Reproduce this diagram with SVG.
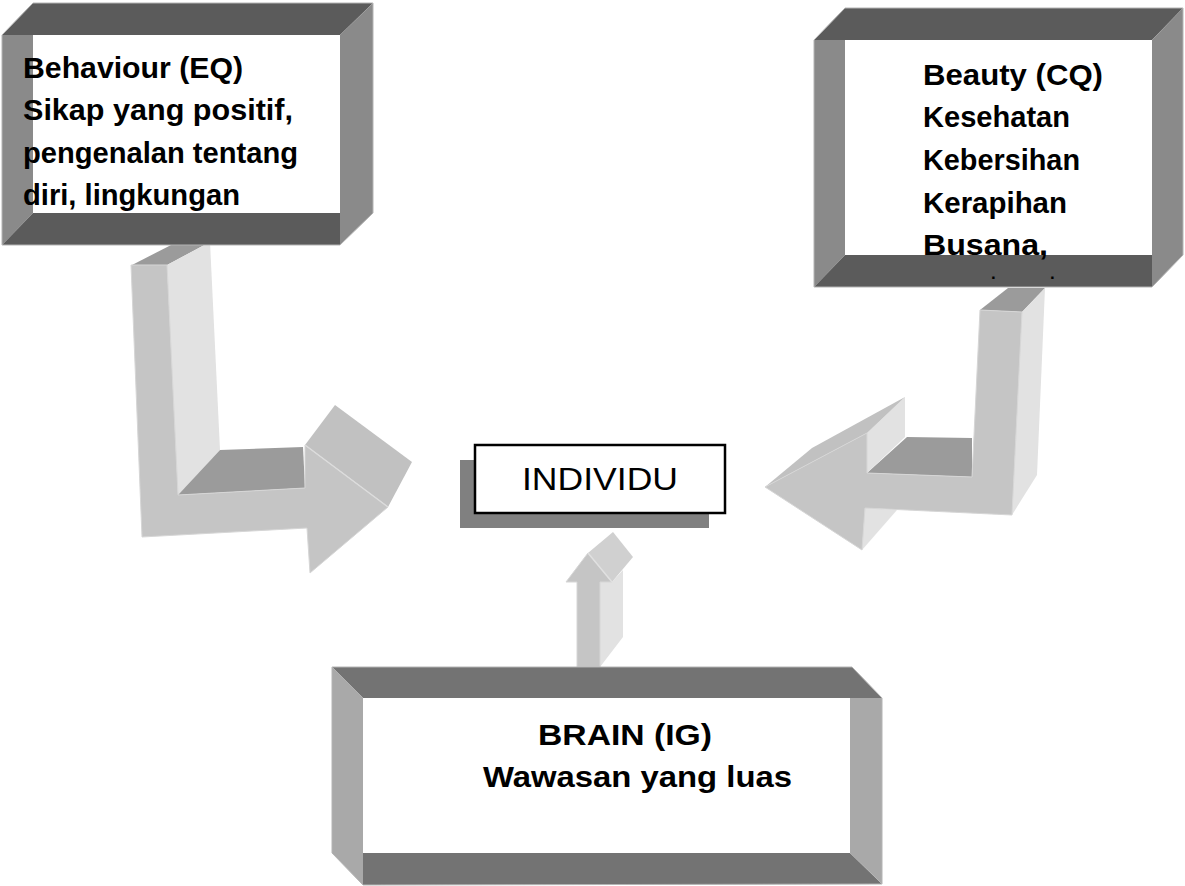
<svg xmlns="http://www.w3.org/2000/svg" width="1185" height="886" viewBox="0 0 1185 886">
<style>
.d1{fill:#5b5b5b}
.s1{fill:#8a8a8a}
.d2{fill:#737373}
.s2{fill:#a9a9a9}
.in{fill:#ffffff}
.edge{fill:none;stroke:#b4b4b4;stroke-width:1}
.front{fill:#c5c5c5;stroke:#d6d6d6;stroke-width:1}
.lite{fill:#e2e2e2}
.mid{fill:#9b9b9b}
.bev{fill:#c1c1c1}
.bev2{fill:#d0d0d0}
.t{font-family:'Comic Sans MS','Liberation Sans',Arial,sans-serif;font-weight:bold;font-size:30px;fill:#000}
.tn{font-family:'Comic Sans MS','Liberation Sans',Arial,sans-serif;font-weight:normal;font-size:31px;fill:#000}
.dot{font-family:'Liberation Sans',Arial,sans-serif;font-weight:bold;font-size:17px;fill:#000}
</style>
<g id="connectors">
  <g id="arrow-behaviour">
    <polygon class="mid" points="132,265 175,243 210,242 167,265"/>
    <polygon class="lite" points="167,265 210,242 220,450 178,495"/>
    <polygon class="mid" points="178,495 220,450 303,447 305,488"/>
    <polygon class="bev" points="305,445 335,405 412,462 388,507"/>
    <polygon class="front" points="131,265 167,265 178,495 305,488 305,445 388,507 310,573 307,528 142,537"/>
    <line x1="305" y1="445" x2="388" y2="507" stroke="#dcdcdc" stroke-width="1.5"/>
  </g>
  <g id="arrow-beauty">
    <polygon class="mid" points="980,310 1008,288 1045,288 1022,312"/>
    <polygon class="lite" points="1022,312 1045,288 1037,475 1012,515"/>
    <polygon class="mid" points="867,473 907,437 972,438 972,477"/>
    <polygon class="lite" points="867,433 905,397 905,437 867,473"/>
    <polygon class="bev" points="765,487 812,448 905,397 867,433"/>
    <polygon class="lite" points="865,508 897,510 862,550"/>
    <polygon class="front" points="765,487 867,433 867,473 972,477 980,310 1022,312 1012,515 865,508 862,550"/>
  </g>
  <g id="arrow-brain">
    <polygon class="lite" points="600,582 612,582 623,570 623,637 600,667"/>
    <polygon class="bev2" points="588,553 613,532 633,557 612,582"/>
    <polygon class="front" points="577,667 577,582 566,582 588,553 612,582 600,582 600,667"/>
    <line x1="588" y1="553" x2="612" y2="582" stroke="#e0e0e0" stroke-width="1.5"/>
  </g>
</g>
<g id="node-behaviour">
  <rect class="in" x="33" y="35" width="307" height="178"/>
  <polygon class="d1" points="2,35 33,3 373,3 340,35"/>
  <polygon class="s1" points="2,35 33,35 33,213 2,245"/>
  <polygon class="d1" points="33,213 340,213 340,245 2,245"/>
  <polygon class="s1" points="340,35 373,3 373,213 340,245"/>
  <polygon class="edge" points="2,35 33,3 373,3 373,213 340,245 2,245"/>
  <text class="t" x="23" y="78" textLength="220" lengthAdjust="spacingAndGlyphs">Behaviour (EQ)</text>
  <text class="t" x="23" y="120" textLength="270" lengthAdjust="spacingAndGlyphs">Sikap yang positif,</text>
  <text class="t" x="23" y="163" textLength="275" lengthAdjust="spacingAndGlyphs">pengenalan tentang</text>
  <text class="t" x="23" y="205" textLength="217" lengthAdjust="spacingAndGlyphs">diri, lingkungan</text>
</g>
<g id="node-beauty">
  <rect class="in" x="845" y="40" width="307" height="215"/>
  <polygon class="d1" points="814,40 845,8 1183,8 1152,40"/>
  <polygon class="s1" points="814,40 845,40 845,255 814,287"/>
  <polygon class="d1" points="845,255 1152,255 1152,287 814,287"/>
  <polygon class="s1" points="1152,40 1183,8 1183,255 1152,287"/>
  <polygon class="edge" points="814,40 845,8 1183,8 1183,255 1152,287 814,287"/>
  <text class="t" x="923" y="85" textLength="180" lengthAdjust="spacingAndGlyphs">Beauty (CQ)</text>
  <text class="t" x="923" y="127" textLength="147" lengthAdjust="spacingAndGlyphs">Kesehatan</text>
  <text class="t" x="923" y="170" textLength="157" lengthAdjust="spacingAndGlyphs">Kebersihan</text>
  <text class="t" x="923" y="213" textLength="144" lengthAdjust="spacingAndGlyphs">Kerapihan</text>
  <text class="t" x="923" y="255" textLength="125" lengthAdjust="spacingAndGlyphs">Busana,</text>
  <text class="dot" x="991" y="279">.</text>
  <text class="dot" x="1050" y="279">.</text>
</g>
<g id="node-individu">
  <rect x="460" y="460" width="249" height="68" fill="#808080"/>
  <rect x="475" y="445" width="250" height="68" fill="#ffffff" stroke="#000000" stroke-width="2.5"/>
  <text class="tn" x="522" y="490" textLength="156" lengthAdjust="spacingAndGlyphs">INDIVIDU</text>
</g>
<g id="node-brain">
  <rect class="in" x="363" y="698" width="487" height="155"/>
  <polygon class="d2" points="332,667 852,667 882,698 363,698"/>
  <polygon class="s2" points="332,667 363,698 363,885 332,853"/>
  <polygon class="d2" points="363,853 850,853 882,884 363,885"/>
  <polygon class="s2" points="850,698 882,698 882,884 850,853"/>
  <polygon class="edge" points="332,667 852,667 882,698 882,884 363,885 332,853"/>
  <text class="t" x="538" y="745" textLength="174" lengthAdjust="spacingAndGlyphs">BRAIN (IG)</text>
  <text class="t" x="483" y="787" textLength="309" lengthAdjust="spacingAndGlyphs">Wawasan yang luas</text>
</g>
</svg>
